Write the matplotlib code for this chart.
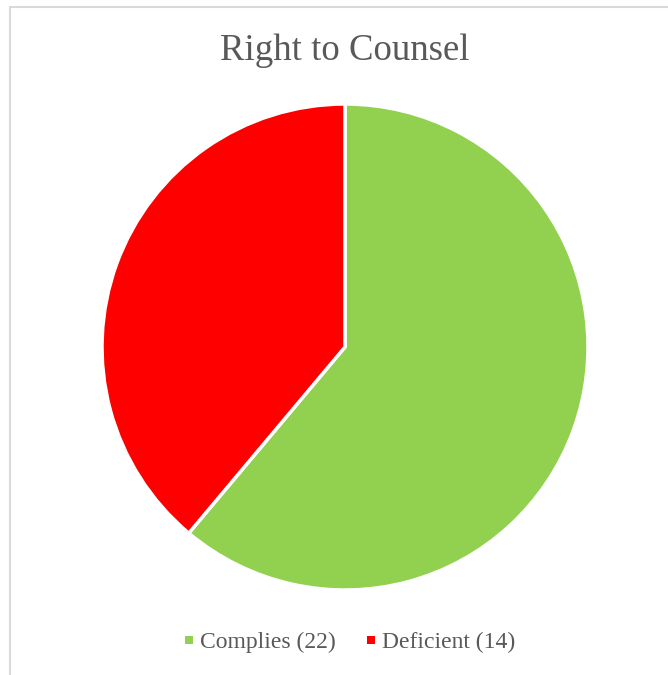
import matplotlib.pyplot as plt
from matplotlib.patches import Rectangle
from matplotlib.lines import Line2D

labels = ["Complies (22)", "Deficient (14)"]
values = [22, 14]
colors = ["#92D050", "#FF0000"]

W, H = 668, 675
fig = plt.figure(figsize=(W / 100, H / 100), dpi=100)
plt.rcParams['font.family'] = ['Liberation Serif', 'DejaVu Serif']

# chart area border (cropped at right and bottom)
fig.patches.append(Rectangle((9.5 / W, -0.1), 1.2, 1.1 - 7.5 / H, transform=fig.transFigure,
                             fill=False, edgecolor="#D9D9D9", linewidth=1.5))

cx, cy, r = 345, 347, 243
ax = fig.add_axes([(cx - r) / W, 1 - (cy + r) / H, 2 * r / W, 2 * r / H])
wedges, _ = ax.pie(values, colors=colors, startangle=90, counterclock=False,
                   wedgeprops=dict(edgecolor="white", linewidth=2.5))
ax.set_xlim(-1, 1)
ax.set_ylim(-1, 1)
ax.set_aspect("equal")

fig.text(345 / W, 1 - 51 / H, "Right to Counsel", ha="center", va="center",
         fontsize=26.5, color="#595959")

handles = [Line2D([], [], linestyle="none", marker="s", markersize=5.8,
                  markerfacecolor=c, markeredgewidth=0) for c in colors]
fig.legend(handles, labels, loc="center", bbox_to_anchor=(350 / W, 1 - 642 / H),
           ncol=2, frameon=False, fontsize=17, handlelength=0.34,
           handletextpad=0.3, columnspacing=1.3, labelcolor="#595959")

fig.savefig("out.png", dpi=100)
